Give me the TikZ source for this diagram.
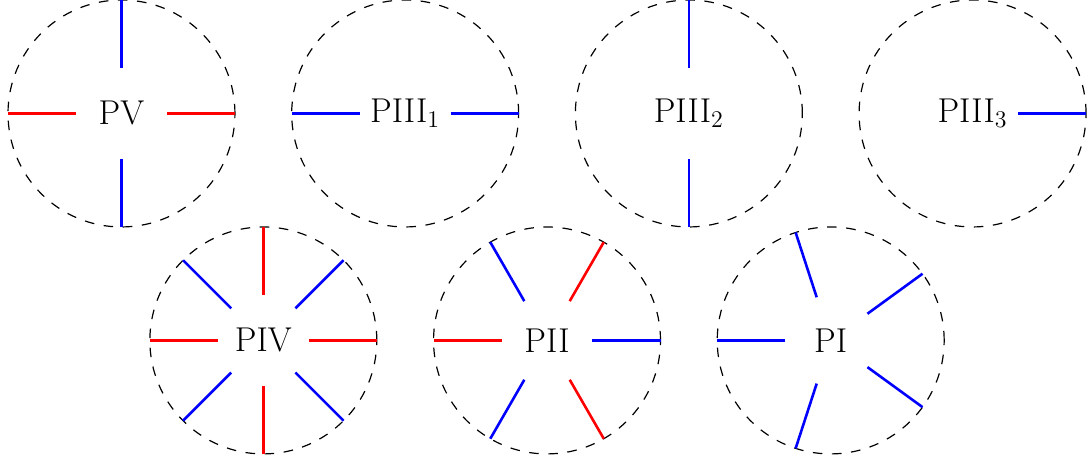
\documentclass[tikz,border=0pt]{standalone}
\usepackage{amsmath,amssymb}
\usepackage{xcolor}
\usepackage{tikz}
\usetikzlibrary{calc}

\begin{document}
\begin{tikzpicture}[
    ring/.style={circle, draw, dash pattern=on 4.8pt off 4.8pt, line width=0.6pt, minimum size=4cm, inner sep=0pt, outer sep=0pt, font=\LARGE},
    redtick/.style={draw=red, line width=1.3pt},
    bluetick/.style={draw=blue, line width=1.3pt}
]
\useasboundingbox (-2.141,-6.19) rectangle (17.07,2.0);

% Top row
\node[ring] (pv) at (0,0) {PV};
\node[ring] (piiia) at (5,0) {PIII$_1$};
\node[ring] (piiib) at (10,0) {PIII$_2$};
\node[ring] (piiic) at (15,0) {PIII$_3$};

% Bottom row
\node[ring] (piv) at (2.5,-4) {PIV};
\node[ring] (pii) at (7.5,-4) {PII};
\node[ring] (pi) at (12.5,-4) {PI};

% PV
\draw[redtick] ($(pv)+(0:0.8)$) -- (pv.0);
\draw[redtick] ($(pv)+(180:0.8)$) -- (pv.180);
\draw[bluetick] ($(pv)+(90:0.8)$) -- (pv.90);
\draw[bluetick] ($(pv)+(270:0.8)$) -- (pv.270);

% PIII_1
\draw[bluetick] ($(piiia)+(0:0.8)$) -- (piiia.0);
\draw[bluetick] ($(piiia)+(180:0.8)$) -- (piiia.180);

% PIII_2
\draw[bluetick] ($(piiib)+(90:0.8)$) -- (piiib.90);
\draw[bluetick] ($(piiib)+(270:0.8)$) -- (piiib.270);

% PIII_3
\draw[bluetick] ($(piiic)+(0:0.8)$) -- (piiic.0);

% PIV
\draw[redtick] ($(piv)+(0:0.8)$) -- (piv.0);
\draw[redtick] ($(piv)+(90:0.8)$) -- (piv.90);
\draw[redtick] ($(piv)+(180:0.8)$) -- (piv.180);
\draw[redtick] ($(piv)+(270:0.8)$) -- (piv.270);
\draw[bluetick] ($(piv)+(45:0.8)$) -- (piv.45);
\draw[bluetick] ($(piv)+(135:0.8)$) -- (piv.135);
\draw[bluetick] ($(piv)+(225:0.8)$) -- (piv.225);
\draw[bluetick] ($(piv)+(315:0.8)$) -- (piv.315);

% PII
\draw[bluetick] ($(pii)+(0:0.8)$) -- (pii.0);
\draw[redtick] ($(pii)+(60:0.8)$) -- (pii.60);
\draw[bluetick] ($(pii)+(120:0.8)$) -- (pii.120);
\draw[redtick] ($(pii)+(180:0.8)$) -- (pii.180);
\draw[bluetick] ($(pii)+(240:0.8)$) -- (pii.240);
\draw[redtick] ($(pii)+(300:0.8)$) -- (pii.300);

% PI
\draw[bluetick] ($(pi)+(36:0.8)$) -- (pi.36);
\draw[bluetick] ($(pi)+(108:0.8)$) -- (pi.108);
\draw[bluetick] ($(pi)+(180:0.8)$) -- (pi.180);
\draw[bluetick] ($(pi)+(252:0.8)$) -- (pi.252);
\draw[bluetick] ($(pi)+(324:0.8)$) -- (pi.324);

\end{tikzpicture}
\end{document}
